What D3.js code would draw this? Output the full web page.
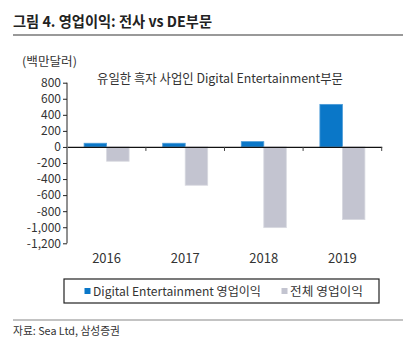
<!DOCTYPE html>
<html><head><meta charset="utf-8">
<script src="https://cdn.jsdelivr.net/npm/d3@7"></script>
<style>
body{margin:0;background:#fff;}
text{font-family:"Noto Sans CJK KR","Noto Sans",sans-serif;fill:#333;}
</style></head>
<body>
<svg id="c" width="408" height="349"></svg>
<script>
const categories = ["2016","2017","2018","2019"];
const seriesNames = ["Digital Entertainment 영업이익","전체 영업이익"];
const deValues = [46, 46, 66, 530];
const totalValues = [-178, -477, -1005, -905];
const yTicks = [800,600,400,200,0,-200,-400,-600,-800,-1000,-1200];
const colors = ["#0a77c8","#c3c4d0"];

const svg = d3.select("#c");
const W = 408, H = 349;

// title
svg.append("text").attr("x",13).attr("y",27).attr("font-size",15).attr("font-weight","bold")
  .style("fill","#222")
  .attr("textLength",199).attr("lengthAdjust","spacingAndGlyphs")
  .text("그림 4. 영업이익: 전사 vs DE부문");
svg.append("line").attr("x1",13).attr("x2",403).attr("y1",35).attr("y2",35)
  .attr("stroke","#777").attr("stroke-width",1.5);

svg.append("text").attr("x",22).attr("y",66).attr("font-size",12)
  .attr("textLength",55).attr("lengthAdjust","spacingAndGlyphs").text("(백만달러)");

const x0 = d3.scaleBand().domain(categories).range([67.3,381.7]).paddingInner(0).paddingOuter(0);
const x1 = d3.scaleBand().domain([0,1]).range([0,45]);
const y = d3.scaleLinear().domain([-1200,800]).range([243.3,82.7]);

// y axis
const fmt = d3.format(",");
const yAxis = d3.axisLeft(y).tickValues(yTicks).tickSize(4).tickPadding(2)
  .tickFormat(d => fmt(d).replace("\u2212","-"));
const gy = svg.append("g").attr("transform","translate(67,0)").call(yAxis);
gy.select(".domain").attr("stroke","#222").attr("d","M0,"+y(800)+"V"+y(-1200));
gy.selectAll(".tick line").attr("stroke","#222");
gy.selectAll(".tick text").attr("font-size",12).style("fill","#333")
  .attr("font-family","'Open Sans','Noto Sans',sans-serif");

// bars
const groups = svg.append("g").selectAll("g").data(categories).join("g")
  .attr("transform", d => `translate(${x0(d)+ (x0.bandwidth()-45)/2},0)`);
const vals = [deValues, totalValues];
groups.selectAll("rect").data((d,i) => [0,1].map(s => ({s, v: vals[s][i]}))).join("rect")
  .attr("x", d => x1(d.s)).attr("width", x1.bandwidth())
  .attr("y", d => y(Math.max(0,d.v))).attr("height", d => Math.abs(y(d.v)-y(0)))
  .attr("fill", d => colors[d.s])
  .attr("stroke", d => d.s===0 ? "#4b9bd8" : "#d8d9e0").attr("stroke-width",0.8);

// x axis at zero
const xAxis = d3.axisBottom(x0).tickSize(0).tickFormat("");
const gx = svg.append("g").attr("transform",`translate(0,${y(0)})`).call(xAxis);
gx.select(".domain").attr("stroke","#111").attr("stroke-width",1.3);
svg.append("g").selectAll("line").data(categories).join("line")
  .attr("x1", d => x0(d)+x0.bandwidth()).attr("x2", d => x0(d)+x0.bandwidth())
  .attr("y1", y(0)).attr("y2", y(0)+4).attr("stroke","#444");
svg.append("g").selectAll("text").data(categories).join("text")
  .attr("x", d => x0(d)+x0.bandwidth()/2).attr("y",263).attr("text-anchor","middle")
  .attr("font-size",13).attr("font-family","'Open Sans','Noto Sans',sans-serif")
  .style("fill","#333").text(d => d);

// annotation
svg.append("text").attr("x",97).attr("y",83).attr("font-size",13)
  .attr("textLength",246).attr("lengthAdjust","spacingAndGlyphs")
  .text("유일한 흑자 사업인 Digital Entertainment부문");

// legend
svg.append("rect").attr("x",64).attr("y",279).attr("width",315).attr("height",24)
  .attr("fill","none").attr("stroke","#222").attr("stroke-width",1.2);
const legX = [84.5, 281.5], legTX = [93, 290], legTW = [168, 73];
seriesNames.forEach((n,i) => {
  svg.append("rect").attr("x",legX[i]).attr("y",288).attr("width",6).attr("height",6).attr("fill",colors[i]);
  svg.append("text").attr("x",legTX[i]).attr("y",296).attr("font-size",12)
    .attr("textLength",legTW[i]).attr("lengthAdjust","spacingAndGlyphs").text(n);
});

// source
svg.append("line").attr("x1",13).attr("x2",403).attr("y1",320).attr("y2",320)
  .attr("stroke","#888").attr("stroke-width",1.2);
svg.append("text").attr("x",13).attr("y",335).attr("font-size",11)
  .attr("textLength",107).attr("lengthAdjust","spacingAndGlyphs").text("자료: Sea Ltd, 삼성증권");
</script>
</body></html>
